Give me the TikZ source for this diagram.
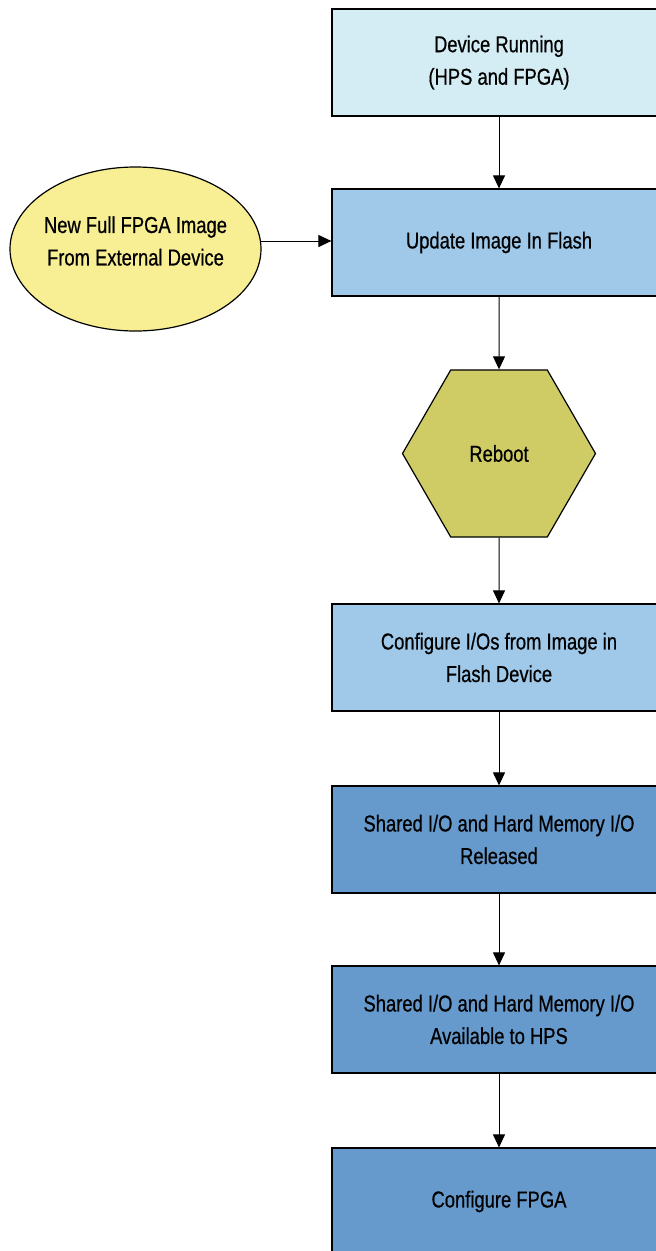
\documentclass[tikz,border=0pt]{standalone}
\usepackage{fontspec}
\setmainfont[FakeStretch=0.8,FakeBold=0.6]{Liberation Sans}
\usetikzlibrary{shapes.geometric,arrows.meta}
\definecolor{cyanbox}{HTML}{D4ECF3}
\definecolor{lightbox}{HTML}{9FC8E9}
\definecolor{darkbox}{HTML}{6699CC}
\definecolor{ellfill}{HTML}{F8EE94}
\definecolor{hexfill}{HTML}{CFCC66}
\tikzset{
  txt/.style={font=\fontsize{23}{32.5}\selectfont},
  stepbox/.style={draw=black, line width=1.2pt, minimum width=334pt, minimum height=107pt, align=center, inner sep=0pt, txt},
  conn/.style={line width=1pt, -{Triangle[length=13pt,width=12pt]}},
}
\begin{document}
\begin{tikzpicture}[x=1pt,y=-1pt]
\useasboundingbox (0,0) rectangle (656,1251);
\clip (0,0) rectangle (656,1251);
\node[stepbox, fill=cyanbox] (b1) at (499,62.5) {Device Running\\(HPS and FPGA)};
\node[stepbox, fill=lightbox] (b2) at (499,242.5) {Update Image In Flash};
\node[draw=black, line width=1.2pt, fill=ellfill, ellipse, minimum width=251pt, minimum height=164pt, inner sep=0pt] (e) at (135.5,249) {};
\node[align=center, txt] (et) at (135.5,241) {New Full FPGA Image\\From External Device};
\node[draw=black, line width=1.2pt, fill=hexfill, regular polygon, regular polygon sides=6, minimum size=193pt, inner sep=0pt, txt] (h) at (499,453.5) {Reboot};
\node[stepbox, fill=lightbox] (b3) at (499,657.5) {Configure I/Os from Image in\\Flash Device};
\node[stepbox, fill=darkbox] (b4) at (499,839.5) {Shared I/O and Hard Memory I/O\\Released};
\node[stepbox, fill=darkbox] (b5) at (499,1019.5) {Shared I/O and Hard Memory I/O\\Available to HPS};
\node[stepbox, fill=darkbox] (b6) at (499,1201.5) {Configure FPGA};
\coordinate (eout) at (261,241);
\draw[conn] (b1.south) -- (b2.north);
\draw[conn] (eout) -- (b2.west |- eout);
\draw[conn] (b2.south) -- (h.north);
\draw[conn] (h.south) -- (b3.north);
\draw[conn] (b3.south) -- (b4.north);
\draw[conn] (b4.south) -- (b5.north);
\draw[conn] (b5.south) -- (b6.north);
\end{tikzpicture}
\end{document}
